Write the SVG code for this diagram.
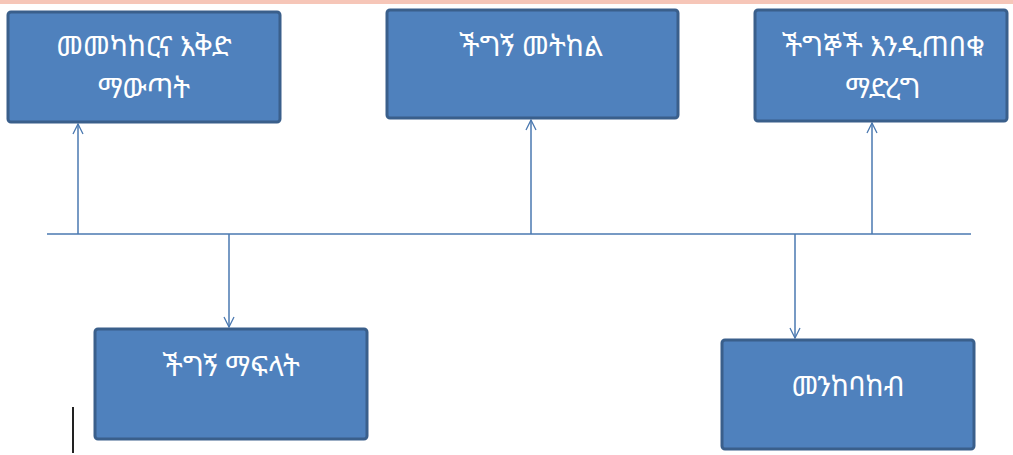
<svg xmlns="http://www.w3.org/2000/svg" width="1013" height="455" viewBox="0 0 1013 455">
<style>
.box{fill:#4f81bd;stroke:#3a5f8b;stroke-width:3}
.t{fill:#ffffff;font-family:"Noto Sans Ethiopic","Abyssinica SIL","Noto Sans","DejaVu Sans",sans-serif;font-size:28px;text-anchor:middle}
.c{stroke:#4a78b0;stroke-width:1.5;fill:none}
</style>
<defs>
<marker id="arr" viewBox="0 0 12 12" refX="11" refY="6" markerWidth="12" markerHeight="12" markerUnits="userSpaceOnUse" orient="auto">
<path d="M1,1 L11,6 L1,11" fill="none" stroke="#4a78b0" stroke-width="1.3"/>
</marker>
</defs>
<rect x="0" y="0" width="1013" height="4" fill="#f6c6b8"/>
<g id="connectors">
<line class="c" x1="47" y1="234" x2="971" y2="234" stroke-width="2"/>
<line class="c" x1="78" y1="234" x2="78" y2="124" marker-end="url(#arr)"/>
<line class="c" x1="531" y1="234" x2="531" y2="120" marker-end="url(#arr)"/>
<line class="c" x1="872" y1="234" x2="872" y2="123" marker-end="url(#arr)"/>
<line class="c" x1="229" y1="234" x2="229" y2="327" marker-end="url(#arr)"/>
<line class="c" x1="795" y1="234" x2="795" y2="338" marker-end="url(#arr)"/>
</g>
<g id="node1">
<rect class="box" x="8" y="12" width="272" height="110" rx="3"/>
<text class="t" x="144" y="56">መመካከርና እቅድ</text>
<text class="t" x="144" y="98">ማውጣት</text>
</g>
<g id="node2">
<rect class="box" x="387" y="10" width="291" height="108" rx="3"/>
<text class="t" x="531" y="56">ችግኝ መትከል</text>
</g>
<g id="node3">
<rect class="box" x="755" y="10" width="252" height="111" rx="3"/>
<text class="t" x="883" y="56">ችግኞች እንዲጠበቁ</text>
<text class="t" x="883" y="98">ማድረግ</text>
</g>
<g id="node4">
<rect class="box" x="95" y="329" width="272" height="110" rx="3"/>
<text class="t" x="231" y="376">ችግኝ ማፍላት</text>
</g>
<g id="node5">
<rect class="box" x="722" y="340" width="252" height="109" rx="3"/>
<text class="t" x="848" y="396">መንከባከብ</text>
</g>
<line x1="73" y1="407" x2="73" y2="453" stroke="#222" stroke-width="2"/>
</svg>
